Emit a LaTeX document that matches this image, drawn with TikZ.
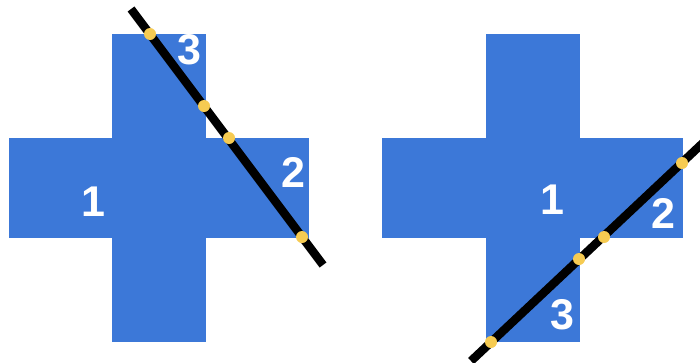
\documentclass[tikz,border=0pt]{standalone}
\usepackage{fontspec}
\setmainfont{Liberation Sans}
\definecolor{crossblue}{HTML}{3C78D8}
\definecolor{cutblack}{HTML}{000000}
\definecolor{dotgold}{HTML}{F6CB52}
\usetikzlibrary{calc}

\begin{document}
\begin{tikzpicture}[x=1pt,y=-1pt,
  piece/.style={text=white,font=\fontsize{43}{43}\selectfont\bfseries,inner sep=0pt}]
  \useasboundingbox (0,0) rectangle (700,362);
  \clip (0,0) rectangle (700,362);
  % left cross
  \fill[crossblue] (112,34) rectangle (206,342);
  \fill[crossblue] (9,138) rectangle (309,238);
  % right cross
  \fill[crossblue] (486,34) rectangle (580,342);
  \fill[crossblue] (382,138) rectangle (683,238);
  % piece numbers
  \node[piece] (lone) at (93,202) {1};
  \node[piece] (ltwo) at (293,172) {2};
  \node[piece] (lthree) at (189,50) {3};
  \node[piece] (rone) at (552,200) {1};
  \node[piece] (rtwo) at (663,213) {2};
  \node[piece] (rthree) at (562,315) {3};
  % cutting lines
  \coordinate (lstart) at (131,9);
  \coordinate (lend) at (323,265);
  \coordinate (rstart) at (471,361);
  \coordinate (rend) at (705,141);
  \draw[cutblack,line width=8.5pt] (lstart) -- (lend);
  \draw[cutblack,line width=8.5pt] (rstart) -- (rend);
  % crossing points
  \foreach \p in {(150,34),(204,106),(229,138),(302,237),
                  (682,163),(604,237),(579,259),(491,342)}
    \fill[dotgold] \p circle (6);
\end{tikzpicture}
\end{document}
